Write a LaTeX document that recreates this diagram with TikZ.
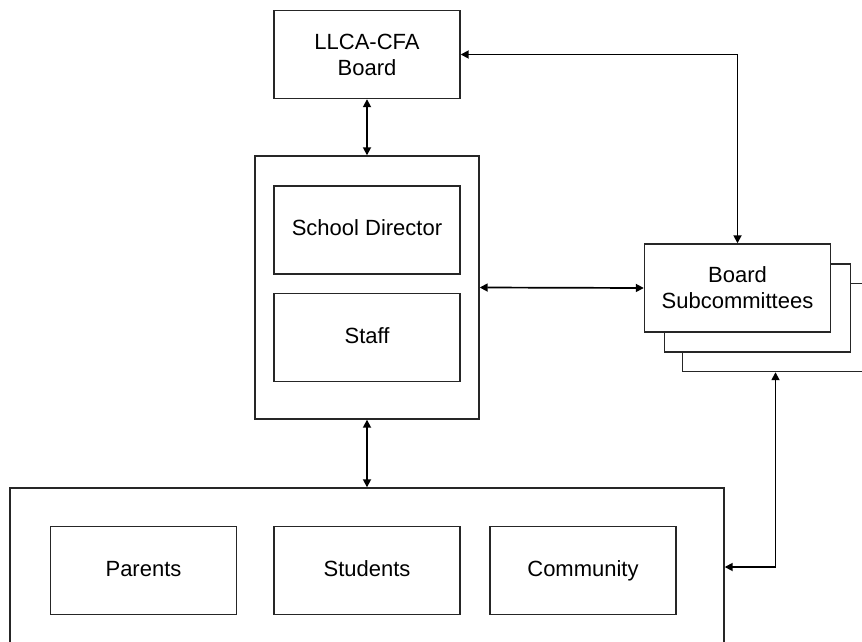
\documentclass[tikz,border=0pt]{standalone}
\usepackage{fontspec}
\setmainfont{Liberation Sans}
\usetikzlibrary{arrows.meta,positioning}

\begin{document}
\begin{tikzpicture}[
    x=1pt,y=-1pt,
    box/.style={draw=black!85,line width=1.4pt,fill=white,minimum width=186pt,minimum height=88pt,inner sep=0pt,align=center,font=\fontsize{22}{26}\selectfont},
    unit/.style={box,text height=16pt,text depth=5pt},
    frame/.style={draw=black!85,line width=1.4pt,inner sep=0pt},
    link/.style={{Triangle[length=8pt,width=8pt]}-{Triangle[length=8pt,width=8pt]},line width=1.7pt}
  ]
    \useasboundingbox (0,0) rectangle (862,642);
    \node[box] (board) at (367,54.5) {LLCA-CFA\\Board};
    \node[frame,minimum width=224pt,minimum height=263pt] (school) at (367,287.5) {};
    \node[unit] (director) at (367,230) {School Director};
    \node[unit] (staff) at (367,337.5) {Staff};
    \node[box] (sub3) at (775.5,327.5) {};
    \node[box] (sub2) at (757.5,308) {};
    \node[box] (sub1) at (737.5,288) {Board\\Subcommittees};
    \node[frame,minimum width=714pt,minimum height=158pt] (group) at (367,567) {};
    \node[unit] (parents) at (143.5,570.5) {Parents};
    \node[unit] (students) at (367,570.5) {Students};
    \node[unit] (community) at (583,570.5) {Community};
    \draw[link] (board.south) -- (school.north);
    \draw[link] (board.east) -| (sub1.north);
    \draw[link] (school.east) -- (sub1.west);
    \draw[link] (school.south) -- (group.north);
    \draw[link] (sub3.south) |- (group.east);
\end{tikzpicture}
\end{document}
